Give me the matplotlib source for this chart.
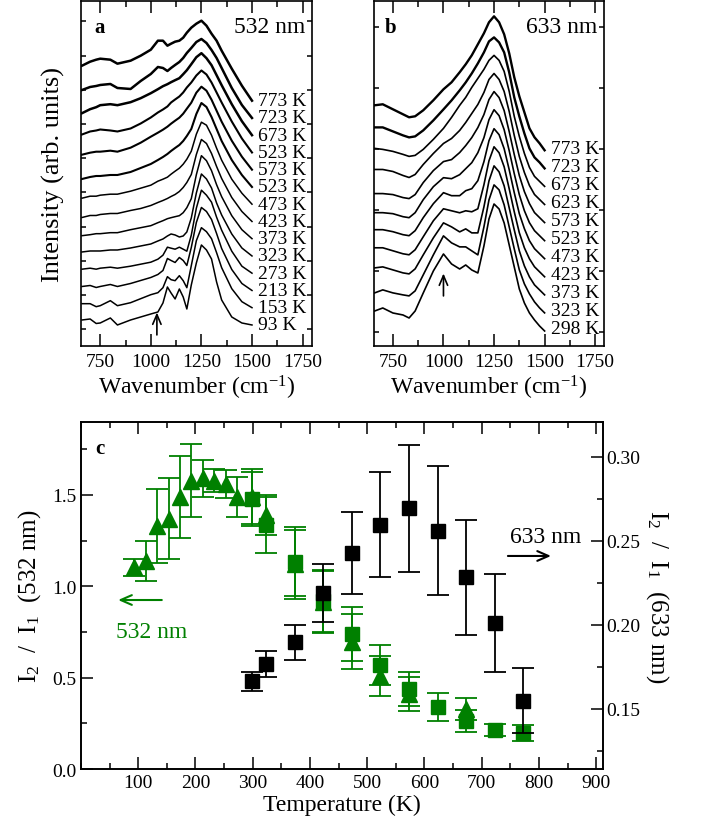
import numpy as np
import matplotlib
matplotlib.use("Agg")
import matplotlib.pyplot as plt
from matplotlib.ticker import MultipleLocator, NullFormatter

plt.rcParams['font.family'] = ['Liberation Serif', 'DejaVu Serif']
plt.rcParams['mathtext.fontset'] = 'custom'
plt.rcParams['mathtext.rm'] = 'Liberation Serif'
plt.rcParams['mathtext.it'] = 'Liberation Serif:italic'
plt.rcParams['mathtext.bf'] = 'Liberation Serif:bold'

GREEN = '#008000'

# ---- panel a: 532 nm spectra (intensity above the 1500 cm-1 end point, arb. units)
wn_a = [660, 700, 730, 750, 800, 835, 900, 950, 1000, 1035, 1060, 1082, 1100, 1120,
        1141, 1160, 1178, 1200, 1225, 1250, 1275, 1300, 1325, 1350, 1400, 1450, 1500]
temps_a = ["773 K", "723 K", "673 K", "523 K", "573 K", "523 K", "473 K",
           "423 K", "373 K", "323 K", "273 K", "213 K", "153 K", "93 K"]
offsets_a = [245, 227.7, 210.5, 193.2, 176, 158.7, 141.5, 124.2, 107, 89.7, 72.5, 55.2, 38, 20.7]
spectra_a = [
    [35, 39, 41, 42, 41, 37, 40, 45, 51, 60, 60, 55, 57, 59, 60, 63, 68, 73, 77, 80, 75, 67, 60, 50, 32, 15, 0],
    [28, 31, 32, 33, 34, 30, 29, 37, 44, 51, 50, 47, 50, 53, 56, 60, 65, 70, 76, 79, 75, 68, 60, 50, 30, 13, 0],
    [22, 26, 28, 30, 31, 30, 33, 37, 42, 46, 49, 51, 53, 55, 57, 61, 65, 71, 78, 82, 77, 70, 60, 50, 31, 14, 0],
    [18, 21, 22, 23, 22, 21, 24, 29, 35, 40, 43, 46, 50, 53, 56, 60, 65, 70, 77, 82, 78, 70, 60, 50, 31, 14, 0],
    [15, 17, 18, 18, 19, 18, 22, 27, 33, 37, 40, 43, 46, 49, 52, 56, 61, 67, 77, 83, 79, 70, 59, 48, 29, 13, 0],
    [8, 10, 11, 11, 12, 12, 15, 19, 23, 27, 30, 33, 36, 39, 42, 46, 51, 58, 73, 84, 80, 70, 58, 46, 27, 12, 0],
    [6, 8, 8, 9, 10, 10, 13, 16, 19, 23, 25, 27, 30, 33, 36, 40, 45, 53, 70, 82, 79, 69, 56, 44, 25, 11, 0],
    [4, 6, 6, 7, 8, 8, 11, 13, 16, 19, 21, 23, 25, 27, 30, 34, 39, 47, 67, 82, 78, 68, 55, 43, 24, 10, 0],
    [3, 4, 5, 5, 6, 6, 9, 11, 13, 16, 18, 20, 21, 22, 23, 26, 31, 40, 64, 83, 78, 68, 54, 42, 23, 9, 0],
    [4, 5, 5, 5, 6, 6, 8, 10, 12, 15, 17, 20, 22, 21, 19, 20, 24, 38, 63, 82, 77, 68, 53, 41, 22, 8, 0],
    [4, 5, 4, 5, 6, 5, 7, 9, 11, 14, 18, 26, 25, 24, 26, 24, 22, 38, 65, 83, 78, 71, 56, 43, 22, 7, 0],
    [4, 5, 3, 4, 6, 4, 7, 10, 13, 16, 20, 32, 30, 28, 33, 30, 25, 43, 68, 83, 79, 71, 57, 42, 21, 7, 0],
    [4, 4, 1, 2, 7, 2, 5, 9, 13, 15, 20, 31, 28, 27, 32, 27, 20, 42, 67, 80, 76, 69, 55, 40, 19, 6, 0],
    [5, 6, 1.5, 2, 7, 0, 5, 8, 11, 13, 22, 38, 32, 26, 36, 28, 16, 40, 62, 80, 75, 66, 43, 25, 8, 2, 0],
]

# ---- panel b: 633 nm spectra
wn_b = [660, 700, 750, 800, 830, 860, 900, 950, 1000, 1040, 1080, 1110, 1140, 1170,
        1200, 1225, 1250, 1275, 1300, 1325, 1350, 1375, 1400, 1425, 1450, 1475, 1500]
temps_b = ["773 K", "723 K", "673 K", "623 K", "573 K", "523 K", "473 K",
           "423 K", "373 K", "323 K", "298 K"]
offsets_b = [195.4, 177.3, 159.3, 141.2, 123.1, 105, 87, 68.9, 50.8, 32.8, 14.7]
spectra_b = [
    [45, 46, 41, 36, 33, 34, 40, 50, 61, 68, 78, 86, 95, 106, 117, 128, 134, 128, 116, 97, 73, 54, 38, 22, 13, 7, 0],
    [41, 41, 37, 33, 31, 32, 38, 48, 59, 68, 78, 86, 95, 105, 116, 127, 131, 126, 116, 96, 71, 52, 35, 20, 11, 6, 0],
    [38, 37, 35, 32, 30, 31, 37, 47, 58, 69, 81, 89, 99, 108, 117, 126, 131, 126, 115, 95, 70, 50, 33, 19, 10, 5, 0],
    [35, 35, 33, 29, 27, 30, 40, 51, 61, 66, 74, 82, 91, 100, 112, 125, 131, 125, 113, 93, 69, 48, 32, 19, 10, 5, 0],
    [29, 29, 28, 25, 24, 28, 40, 52, 61, 63, 70, 77, 85, 95, 108, 123, 131, 125, 112, 91, 68, 47, 31, 19, 10, 5, 0],
    [28, 28, 27, 24, 23, 28, 41, 54, 63, 62, 66, 72, 78, 88, 103, 121, 131, 125, 111, 90, 67, 46, 30, 18, 10, 5, 0],
    [29, 29, 27, 24, 23, 28, 41, 55, 66, 63, 63, 68, 70, 78, 97, 118, 130, 124, 110, 89, 66, 45, 30, 18, 10, 5, 0],
    [29, 29, 26, 23, 22, 27, 40, 56, 68, 66, 64, 66, 65, 68, 92, 116, 130, 124, 110, 88, 65, 44, 29, 18, 10, 5, 0],
    [27, 28, 25, 22, 21, 26, 40, 57, 72, 68, 63, 66, 62, 62, 88, 114, 129, 123, 109, 87, 65, 44, 29, 18, 10, 5, 0],
    [20, 23, 20, 18, 17, 22, 38, 58, 77, 70, 66, 66, 62, 58, 86, 113, 128, 123, 108, 86, 64, 43, 29, 19, 11, 5, 0],
    [20, 23, 18, 16, 13, 20, 38, 60, 77, 67, 62, 66, 61, 58, 85, 112, 127, 122, 108, 86, 64, 42, 28, 18, 11, 5, 0],
]

# ---- panel c: intensity ratios
T_tri = [93, 113, 133, 153, 173, 193, 213, 233, 253, 273, 298, 323, 373, 423, 473, 523, 573, 673]
r_tri = [1.105, 1.14, 1.33, 1.37, 1.487, 1.578, 1.59, 1.578, 1.56, 1.49, 1.49, 1.39,
         1.12, 0.916, 0.697, 0.51, 0.41, 0.33]
e_tri = [0.047, 0.11, 0.2, 0.22, 0.225, 0.2, 0.1, 0.063, 0.075, 0.11, 0.15, 0.11,
         0.19, 0.17, 0.15, 0.11, 0.093, 0.06]

T_sq = [298, 323, 373, 423, 473, 523, 573, 623, 673, 723, 773]
r_532 = [1.478, 1.335, 1.135, 0.92, 0.739, 0.569, 0.44, 0.338, 0.264, 0.214, 0.197]
e_532 = [0.15, 0.155, 0.19, 0.17, 0.15, 0.11, 0.093, 0.077, 0.06, 0.032, 0.045]
r_633 = [0.1665, 0.1768, 0.1897, 0.219, 0.2426, 0.2594, 0.2693, 0.256, 0.2283, 0.2011, 0.155]
e_633 = [0.0057, 0.0078, 0.0105, 0.0174, 0.0245, 0.0312, 0.0379, 0.0384, 0.0342, 0.0293, 0.0194]


def style_spectrum_axis(ax, yticks):
    ax.set_xlim(655, 1795)
    ax.set_ylim(0, 344.7)
    ax.xaxis.set_major_locator(MultipleLocator(250))
    ax.xaxis.set_minor_locator(MultipleLocator(125))
    ax.set_yticks(yticks)
    ax.yaxis.set_major_formatter(NullFormatter())
    ax.tick_params(which='both', direction='in', top=True, right=True, width=1.1)
    ax.tick_params(axis='x', which='major', length=8.5, labelsize=14, pad=5)
    ax.tick_params(axis='x', which='minor', length=4.5)
    ax.tick_params(axis='y', which='major', length=3.5)
    for s in ax.spines.values():
        s.set_linewidth(1.2)
    ax.set_xlabel('Wavenumber (cm$^{-1}$)', fontsize=17, labelpad=2)


fig = plt.figure(figsize=(7.02, 8.28), dpi=100)

ax_a = fig.add_axes([0.1154, 0.5813, 0.3286, 0.4163])
for i, (lab, off, sp) in enumerate(zip(temps_a, offsets_a, spectra_a)):
    lw = 1.8 if i < 3 else (1.5 if i < 6 else 1.1)
    ax_a.plot(wn_a, np.array(sp) + off, color='k', lw=lw)
    ax_a.text(1530, off, lab, fontsize=14, va='center', ha='left')
ax_a.annotate('', xy=(1030, 36), xytext=(1030, 8),
              arrowprops=dict(arrowstyle='->,head_length=0.7,head_width=0.3', lw=1.2, color='k'))
ax_a.text(0.08, 0.925, 'a', transform=ax_a.transAxes, fontsize=15, fontweight='bold', ha='center', va='center')
ax_a.text(0.97, 0.925, '532 nm', transform=ax_a.transAxes, fontsize=17, ha='right', va='center')
style_spectrum_axis(ax_a, np.arange(16.5, 344, 34.2))
ax_a.set_ylabel('Intensity (arb. units)', fontsize=19, labelpad=8)

ax_b = fig.add_axes([0.5323, 0.5813, 0.3285, 0.4163])
for i, (lab, off, sp) in enumerate(zip(temps_b, offsets_b, spectra_b)):
    lw = 1.7 if i < 2 else 1.2
    ax_b.plot(wn_b, np.array(sp) + off, color='k', lw=lw)
    ax_b.text(1530, off + 2, lab, fontsize=14, va='center', ha='left')
ax_b.annotate('', xy=(1000, 75), xytext=(1000, 47),
              arrowprops=dict(arrowstyle='->,head_length=0.7,head_width=0.3', lw=1.2, color='k'))
ax_b.text(0.075, 0.925, 'b', transform=ax_b.transAxes, fontsize=15, fontweight='bold', ha='center', va='center')
ax_b.text(0.97, 0.925, '633 nm', transform=ax_b.transAxes, fontsize=17, ha='right', va='center')
style_spectrum_axis(ax_b, np.arange(14, 344, 61))

# ---- panel c
ax_c = fig.add_axes([0.1154, 0.0700, 0.7436, 0.4191])
ax2 = ax_c.twinx()
ax_c.errorbar(T_tri, r_tri, yerr=e_tri, fmt='^', color=GREEN, ms=11, capsize=8,
              elinewidth=1.3, capthick=1.3)
ax_c.errorbar(T_sq, r_532, yerr=e_532, fmt='s', color=GREEN, ms=10, capsize=8,
              elinewidth=1.3, capthick=1.3)
ax2.errorbar(T_sq, r_633, yerr=e_633, fmt='s', color='k', ms=10, capsize=8,
             elinewidth=1.3, capthick=1.3)

ax_c.set_xlim(0, 912)
ax_c.set_ylim(0, 1.899)
ax2.set_ylim(0.1143, 0.3206)
ax_c.set_xticks(range(100, 901, 100))
ax_c.xaxis.set_minor_locator(MultipleLocator(50))
ax_c.yaxis.set_major_locator(MultipleLocator(0.5))
ax_c.yaxis.set_minor_locator(MultipleLocator(0.25))
ax_c.yaxis.set_major_formatter(plt.FormatStrFormatter('%.1f'))
ax2.yaxis.set_major_locator(MultipleLocator(0.05))
ax2.yaxis.set_minor_locator(MultipleLocator(0.025))
ax2.yaxis.set_major_formatter(plt.FormatStrFormatter('%.2f'))
ax_c.tick_params(which='both', direction='in', top=True, right=False, width=1.1, labelsize=14)
ax_c.tick_params(which='major', length=8.5)
ax_c.tick_params(which='minor', length=4.5)
ax2.tick_params(which='both', direction='in', width=1.1, labelsize=14, pad=2)
ax2.tick_params(which='major', length=8.5)
ax2.tick_params(which='minor', length=4.5)
for s in list(ax_c.spines.values()) + list(ax2.spines.values()):
    s.set_linewidth(1.2)

ax_c.set_xlabel('Temperature (K)', fontsize=17, labelpad=2)
ax_c.set_ylabel('I$_2$  /  I$_1$  (532 nm)', fontsize=18, labelpad=6)
ax2.set_ylabel('I$_2$  /  I$_1$  (633 nm)', fontsize=18, rotation=-90, labelpad=22)

ax_c.text(0.037, 0.925, 'c', transform=ax_c.transAxes, fontsize=15, fontweight='bold', ha='center', va='center')
ax_c.annotate('', xy=(60, 0.925), xytext=(146, 0.925),
              arrowprops=dict(arrowstyle='->,head_length=0.8,head_width=0.35', lw=1.5, color=GREEN))
ax_c.text(124, 0.75, '532 nm', fontsize=17, color=GREEN, ha='center', va='center')
ax_c.annotate('', xy=(826, 1.166), xytext=(741, 1.166),
              arrowprops=dict(arrowstyle='->,head_length=0.8,head_width=0.35', lw=1.5, color='k'))
ax_c.text(812, 1.275, '633 nm', fontsize=17, ha='center', va='center')

fig.savefig('out.png', dpi=100)
